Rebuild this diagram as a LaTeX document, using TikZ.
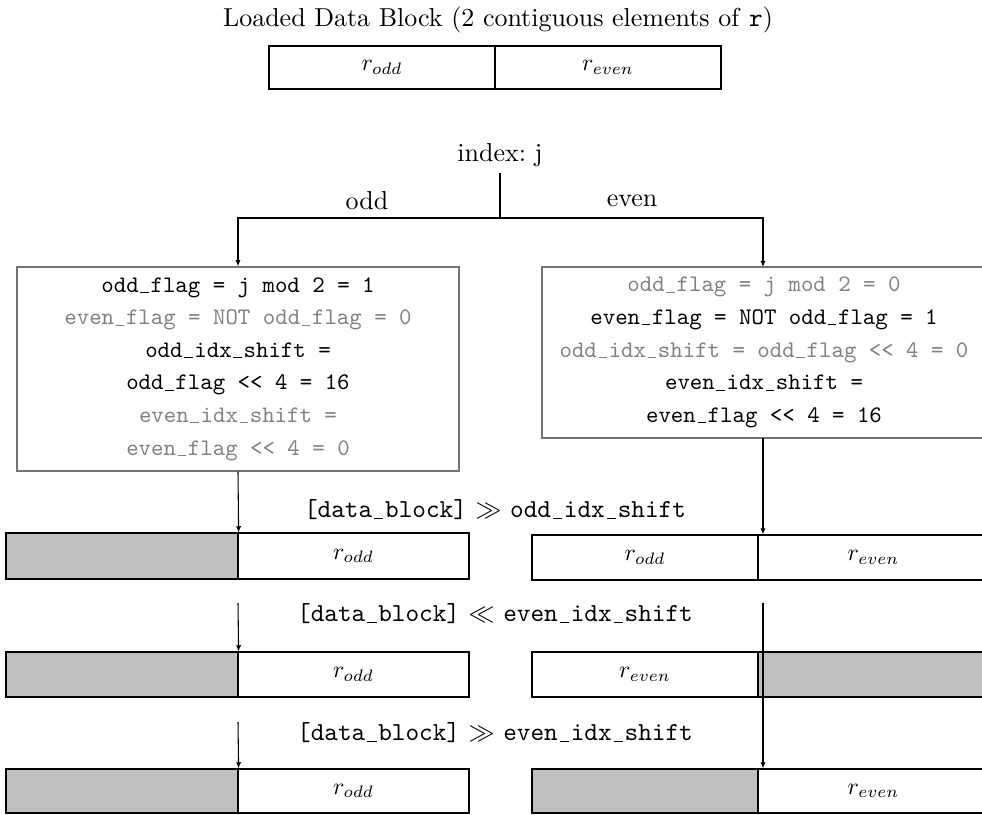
\documentclass[tikz,border=0pt]{standalone}
\usetikzlibrary{arrows.meta}
\definecolor{txtgray}{gray}{0.5}
\definecolor{boxgray}{gray}{0.45}
\definecolor{cellgray}{gray}{0.75}
\newcommand\shl{<\kern0pt<}
\newcommand\us{\makebox[0.5em][c]{\rule[-0.35pt]{0.36em}{0.45pt}}}
\begin{document}
\begin{tikzpicture}[x=0.4219pt,y=-0.4219pt,
  >={Latex[length=2.6pt,width=2.2pt]},
  conn/.style={draw=black,line width=0.45pt},
  arr/.style={conn,->},
  sz/.style 2 args={minimum width={#1*0.4219pt},minimum height={#2*0.4219pt}},
  cell/.style={draw=black,line width=0.5pt,inner sep=0pt,anchor=center,font=\fontsize{10}{12}\selectfont},
  shade/.style={cell,fill=cellgray},
  flagbox/.style={draw=boxgray,line width=0.6pt,inner sep=0pt,align=center,font=\ttfamily\fontsize{10}{13.76}\selectfont},
  lbl/.style={inner sep=0pt,font=\fontsize{10.95}{13.6}\selectfont},
  oplbl/.style={inner sep=0pt,font=\fontsize{10.95}{13.6}\selectfont}
]
\useasboundingbox (0,0) rectangle (982,814);

% title and top block
\node[lbl] (title) at (498,20) {Loaded Data Block (2 contiguous elements of \texttt{r})};
\node[cell,sz={226}{43}] (topa) at (382,67.5) {$r_{odd}$};
\node[cell,sz={226}{43}] (topb) at (608,67.5) {$r_{even}$};

% index and split
\node[lbl] (index) at (500,155) {index:\ j};
\coordinate (stem) at (500,173);
\coordinate (split) at (500,218);
\node[lbl] (odd) at (367,201) {odd};
\node[lbl] (even) at (632,201) {even};

% flag boxes
\node[flagbox,sz={442}{204}] (lbox) at (238,369) {%
odd\us flag = j mod 2 = 1\\
\textcolor{txtgray}{even\us flag = NOT odd\us flag = 0}\\
odd\us idx\us shift =\\
odd\us flag \shl{} 4 = 16\\
\textcolor{txtgray}{even\us idx\us shift =}\\
\textcolor{txtgray}{even\us flag \shl{} 4 = 0}};
\node[flagbox,sz={444}{171}] (rbox) at (764,352.5) {%
\textcolor{txtgray}{odd\us flag = j mod 2 = 0}\\
even\us flag = NOT odd\us flag = 1\\
\textcolor{txtgray}{odd\us idx\us shift = odd\us flag \shl{} 4 = 0}\\
even\us idx\us shift =\\
even\us flag \shl{} 4 = 16};

% row 1
\node[shade,sz={232}{46}] (r1la) at (122,556) {};
\node[cell,sz={231}{46}] (r1lb) at (353.5,556) {$r_{odd}$};
\node[cell,sz={226}{45}] (r1ra) at (645,557.5) {$r_{odd}$};
\node[cell,sz={231}{45}] (r1rb) at (873.5,557.5) {$r_{even}$};
% row 2
\node[shade,sz={232}{45}] (r2la) at (122,674.5) {};
\node[cell,sz={231}{45}] (r2lb) at (353.5,674.5) {$r_{odd}$};
\node[cell,sz={226}{45}] (r2ra) at (645,674.5) {$r_{even}$};
\node[shade,sz={231}{45}] (r2rb) at (873.5,674.5) {};
% row 3
\node[shade,sz={232}{44}] (r3la) at (122,791) {};
\node[cell,sz={231}{44}] (r3lb) at (353.5,791) {$r_{odd}$};
\node[shade,sz={226}{44}] (r3ra) at (645,791) {};
\node[cell,sz={231}{44}] (r3rb) at (873.5,791) {$r_{even}$};

% operation labels
\node[oplbl] (op1) at (495,510) {\texttt{[data\us block]} $\gg$ \texttt{odd\us idx\us shift}};
\node[oplbl] (op2) at (495,614) {\texttt{[data\us block]} $\ll$ \texttt{even\us idx\us shift}};
\node[oplbl] (op3) at (495,733) {\texttt{[data\us block]} $\gg$ \texttt{even\us idx\us shift}};

% connectors
\draw[conn] (stem) -- (split);
\draw[arr] (split) -| (lbox.north);
\draw[arr] (split) -- (763,218) -- (763,267);
\draw[arr] (lbox.south) -- (r1la.north east);
\coordinate (rb) at (763,438);
\draw[arr] (rb) -- (rb |- r1ra.north);
\coordinate (l2) at (238,603);
\coordinate (l3) at (238,722);
\coordinate (r2) at (763,603);
\draw[arr] (l2) -- (r2la.north east);
\draw[arr] (l3) -- (r3la.north east);
\draw[arr] (r2) -- (r2 |- r3ra.north);
\end{tikzpicture}
\end{document}
